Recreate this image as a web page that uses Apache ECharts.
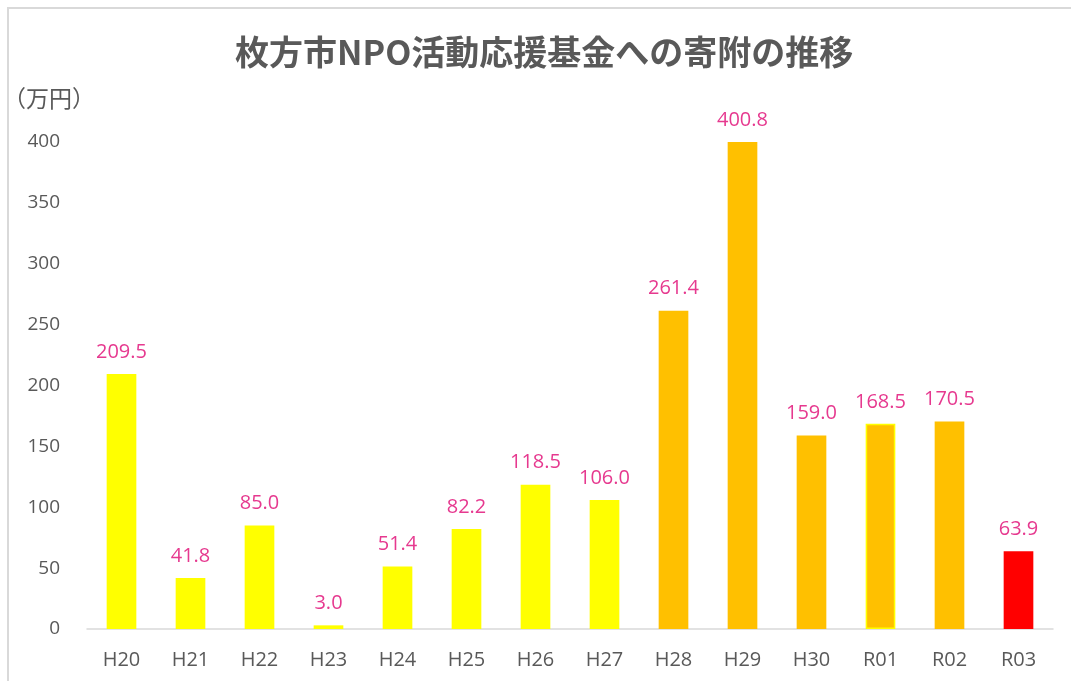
<!DOCTYPE html>
<html>
<head>
<meta charset="utf-8">
<script src="https://cdn.jsdelivr.net/npm/echarts@6/dist/echarts.min.js"></script>
<style>
html,body{margin:0;padding:0;background:#fff;}
#chart{width:1071px;height:681px;}
</style>
</head>
<body>
<div id="chart"></div>
<script>
// 年度と寄附額（万円）
var years = ['H20','H21','H22','H23','H24','H25','H26','H27','H28','H29','H30','R01','R02','R03'];
var amounts = [209.5, 41.8, 85.0, 3.0, 51.4, 82.2, 118.5, 106.0, 261.4, 400.8, 159.0, 168.5, 170.5, 63.9];
var barColors = ['#FFFF00','#FFFF00','#FFFF00','#FFFF00','#FFFF00','#FFFF00','#FFFF00','#FFFF00',
                 '#FFC000','#FFC000','#FFC000','#FFC000','#FFC000','#FF0000'];
var borderColors = ['','','','','','','','','','','','#FFFF00','',''];

var chart = echarts.init(document.getElementById('chart'));
var option = {
    backgroundColor: '#fff',
    animation: false,
    graphic: [{
        type: 'polyline',
        shape: {points: [[8, 681], [8, 8], [1071, 8]]},
        style: {stroke: '#d9d9d9', lineWidth: 2, fill: null}
    }],
    title: {
        text: '枚方市NPO活動応援基金への寄附の推移',
        left: 230,
        top: 30,
        textStyle: {fontFamily: 'Noto Sans CJK JP', fontSize: 34, fontWeight: 'bold', color: '#595959'}
    },
    grid: {left: 85, right: 18, top: 142, bottom: 52},
    xAxis: {
        type: 'category',
        data: years,
        axisLine: {lineStyle: {color: '#d9d9d9', width: 1.5}},
        axisTick: {show: false},
        axisLabel: {color: '#595959', fontSize: 20, fontFamily: 'Open Sans', margin: 21}
    },
    yAxis: {
        type: 'value',
        name: '（万円）',
        nameLocation: 'end',
        nameGap: 32,
        nameTextStyle: {color: '#595959', fontSize: 23, fontFamily: 'Noto Sans CJK JP', align: 'left', padding: [0, 0, 0, -84]},
        min: 0, max: 400, interval: 50,
        splitLine: {show: false},
        axisLine: {show: false},
        axisTick: {show: false},
        axisLabel: {color: '#595959', fontSize: 19, fontFamily: 'Open Sans', margin: 27}
    },
    series: [{
        type: 'bar',
        barWidth: '43%',
        data: amounts.map(function (v, i) {
            var item = {value: v, itemStyle: {color: barColors[i]}};
            if (borderColors[i]) {
                item.itemStyle.borderColor = borderColors[i];
                item.itemStyle.borderWidth = 1.5;
            }
            return item;
        }),
        label: {
            show: true,
            position: 'top',
            distance: 12,
            color: '#E6398F',
            fontSize: 20,
            fontFamily: 'Open Sans',
            formatter: function (p) { return p.value.toFixed(1); }
        }
    }]
};
chart.setOption(option);
</script>
</body>
</html>
